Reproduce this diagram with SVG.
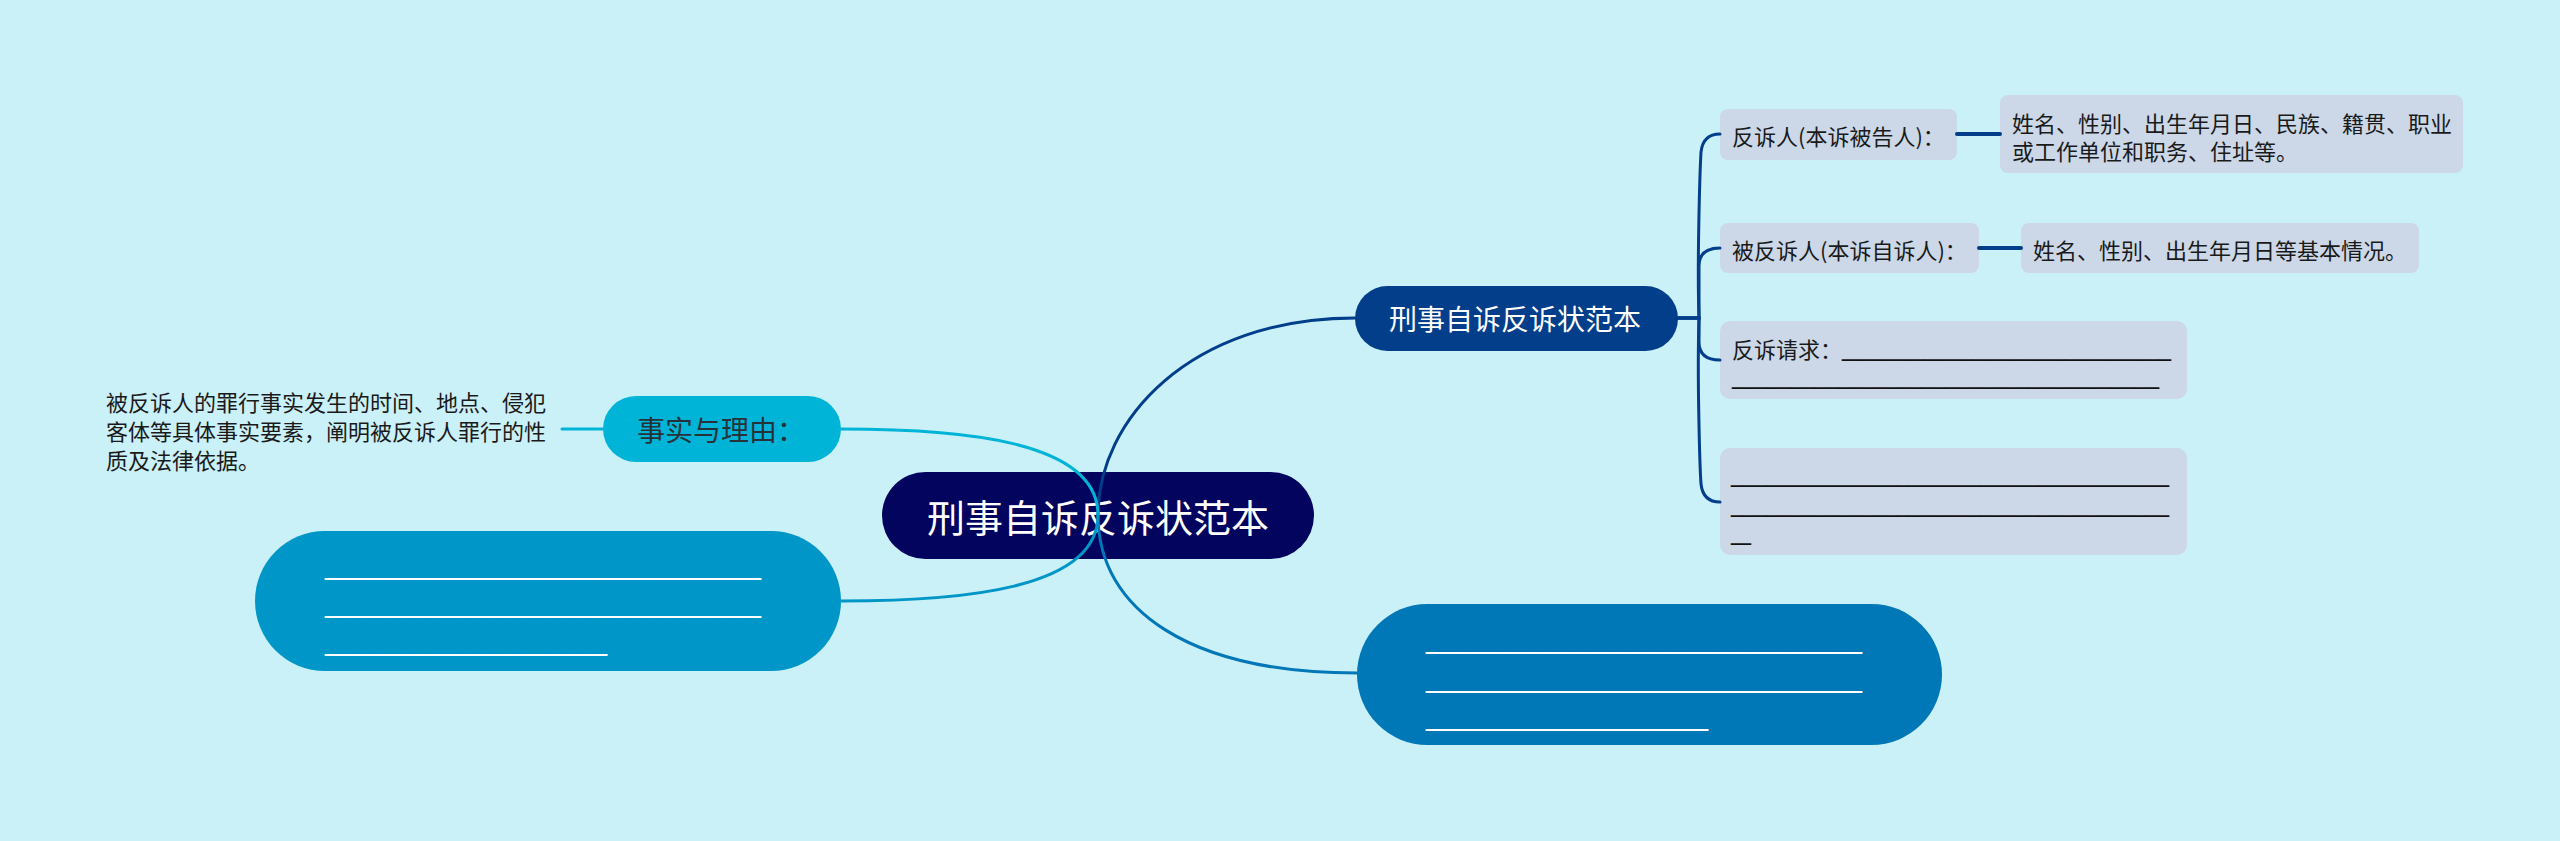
<svg xmlns="http://www.w3.org/2000/svg" width="2560" height="841" viewBox="0 0 2560 841">
<style>
.cjk{font-family:"Noto Sans CJK SC","Noto Sans",sans-serif;dominant-baseline:central}
.us{font-family:"Liberation Sans",Arial,sans-serif}
.sub{fill:#ccd8e8}
.dark{fill:#1a1a1a;font-size:22px}
.wl{fill:#ffffff;font-size:30px}
.bl{fill:#111111;font-size:26px}
.conn path,.conn line{fill:none;stroke-linecap:round}
</style>
<rect x="0" y="0" width="2560" height="841" fill="#caf0f8"/>

<g id="root">
<rect x="882" y="472" width="432" height="87" rx="43.5" fill="#03045e"/>
<text class="cjk" x="927" y="515" font-size="38" fill="#ffffff">刑事自诉反诉状范本</text>
</g>

<g id="main-right">
<rect x="1355" y="286" width="323" height="65" rx="32.5" fill="#023e8a"/>
<text class="cjk" x="1389" y="318" font-size="28" fill="#ffffff">刑事自诉反诉状范本</text>
</g>

<g id="sub-1">
<rect class="sub" x="1720" y="109" width="237" height="51" rx="8"/>
<text class="cjk dark" x="1732" y="135">反诉人(本诉被告人)：</text>
</g>
<g id="detail-1">
<rect class="sub" x="2000" y="95" width="463" height="78" rx="8"/>
<text class="cjk dark" x="2012" y="122">姓名、性别、出生年月日、民族、籍贯、职业</text>
<text class="cjk dark" x="2012" y="150">或工作单位和职务、住址等。</text>
</g>

<g id="sub-2">
<rect class="sub" x="1720" y="223" width="259" height="50" rx="8"/>
<text class="cjk dark" x="1732" y="249">被反诉人(本诉自诉人)：</text>
</g>
<g id="detail-2">
<rect class="sub" x="2021" y="223" width="398" height="50" rx="8"/>
<text class="cjk dark" x="2033" y="249">姓名、性别、出生年月日等基本情况。</text>
</g>

<g id="sub-3">
<rect class="sub" x="1720" y="321" width="467" height="78" rx="10"/>
<text class="cjk dark" x="1732" y="348">反诉请求：</text>
<text class="us bl" x="1842" y="355.5" textLength="329" lengthAdjust="spacingAndGlyphs">____________________________</text>
<text class="us bl" x="1732" y="383.5" textLength="427" lengthAdjust="spacingAndGlyphs">____________________________________</text>
</g>

<g id="sub-4">
<rect class="sub" x="1720" y="448" width="467" height="107" rx="10"/>
<text class="us bl" x="1731" y="481.5" textLength="438" lengthAdjust="spacingAndGlyphs">_____________________________________</text>
<text class="us bl" x="1731" y="511.5" textLength="438" lengthAdjust="spacingAndGlyphs">_____________________________________</text>
<text class="us bl" x="1731" y="539.5" textLength="20" lengthAdjust="spacingAndGlyphs">__</text>
</g>

<g id="right-blank">
<rect x="1357" y="604" width="585" height="141" rx="70.5" fill="#0077b6"/>
<text class="us wl" x="1426" y="648" textLength="436" lengthAdjust="spacingAndGlyphs">______________________________</text>
<text class="us wl" x="1426" y="687" textLength="436" lengthAdjust="spacingAndGlyphs">______________________________</text>
<text class="us wl" x="1426" y="725" textLength="282" lengthAdjust="spacingAndGlyphs">___________________</text>
</g>

<g id="facts">
<rect x="603" y="396" width="238" height="66" rx="33" fill="#00b4d8"/>
<text class="cjk" x="637" y="429" font-size="28" fill="#263238">事实与理由：</text>
</g>

<g id="facts-detail">
<text class="cjk dark" x="106" y="401">被反诉人的罪行事实发生的时间、地点、侵犯</text>
<text class="cjk dark" x="106" y="430">客体等具体事实要素，阐明被反诉人罪行的性</text>
<text class="cjk dark" x="106" y="459">质及法律依据。</text>
</g>

<g id="left-blank">
<rect x="255" y="531" width="586" height="140" rx="70" fill="#0096c7"/>
<text class="us wl" x="325" y="574" textLength="436" lengthAdjust="spacingAndGlyphs">______________________________</text>
<text class="us wl" x="325" y="612" textLength="436" lengthAdjust="spacingAndGlyphs">______________________________</text>
<text class="us wl" x="325" y="650" textLength="282" lengthAdjust="spacingAndGlyphs">___________________</text>
</g>

<g id="connectors" class="conn">
<path d="M1098 515 C1098 420 1190 318 1355 318" stroke="#023e8a" stroke-width="3"/>
<path d="M1098 515 C1098 610 1190 673 1357 673" stroke="#0077b6" stroke-width="3"/>
<path d="M841 429 C960 429 1098 440 1098 515" stroke="#00b4d8" stroke-width="3"/>
<path d="M1098 515 C1098 590 960 601 841 601" stroke="#0096c7" stroke-width="3"/>
<line x1="562" y1="429" x2="603" y2="429" stroke="#00b4d8" stroke-width="3"/>
<path d="M1678 318 H1699 C1697 260 1700 170 1701 152 Q1703 134 1720 134" stroke="#023e8a" stroke-width="3"/>
<path d="M1678 318 H1699 V266 Q1699 248 1720 248" stroke="#023e8a" stroke-width="3"/>
<path d="M1678 318 H1699 V342 Q1699 360 1720 360" stroke="#023e8a" stroke-width="3"/>
<path d="M1678 318 H1699 C1697 380 1700 470 1701 484 Q1703 502 1720 502" stroke="#023e8a" stroke-width="3"/>
<line x1="1957" y1="134" x2="2000" y2="134" stroke="#023e8a" stroke-width="4"/>
<line x1="1979" y1="248" x2="2021" y2="248" stroke="#023e8a" stroke-width="4"/>
</g>
</svg>
